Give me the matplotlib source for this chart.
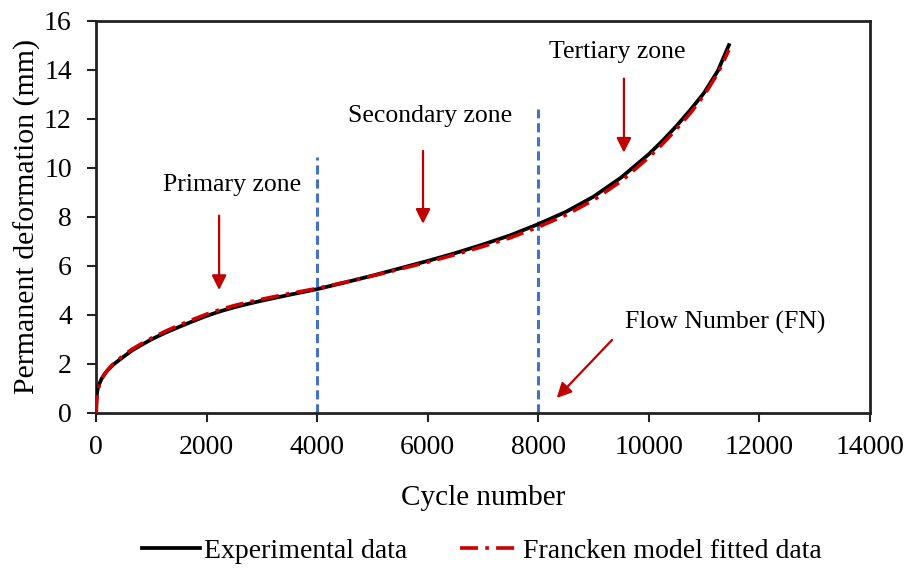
import numpy as np
import matplotlib.pyplot as plt

# values
cycles = [0, 5, 15, 30, 60, 100, 150, 200, 300, 400, 500, 650, 800, 1000, 1250,
          1500, 1750, 2000, 2250, 2500, 2750, 3000, 3500, 4000, 4500, 5000,
          5500, 6000, 6500, 7000, 7500, 8000, 8500, 9000, 9500, 10000, 10250,
          10500, 10750, 11000, 11250, 11450]
experimental = [0, 0.5, 0.8, 1.0, 1.2, 1.4, 1.58, 1.72, 1.95, 2.13, 2.3, 2.55,
                2.75, 3.0, 3.27, 3.51, 3.74, 3.96, 4.15, 4.31, 4.45, 4.58, 4.82,
                5.05, 5.32, 5.6, 5.9, 6.2, 6.52, 6.87, 7.25, 7.7, 8.2, 8.82,
                9.6, 10.55, 11.1, 11.7, 12.35, 13.05, 13.95, 15.0]
francken = [0, 0.3, 0.65, 0.9, 1.15, 1.38, 1.57, 1.73, 1.98, 2.17, 2.36, 2.6,
            2.8, 3.05, 3.33, 3.58, 3.81, 4.03, 4.22, 4.38, 4.52, 4.64, 4.87,
            5.08, 5.33, 5.59, 5.87, 6.15, 6.46, 6.79, 7.15, 7.58, 8.07, 8.68,
            9.45, 10.42, 10.97, 11.57, 12.22, 12.95, 13.85, 14.8]
zone_bounds = [4000, 8000]
zone_line_tops = [10.45, 12.4]

plt.rcParams['font.family'] = ['Liberation Serif', 'DejaVu Serif']
plt.rcParams['font.size'] = 19

fig = plt.figure(figsize=(9.07, 5.72), dpi=100)
ax = fig.add_axes([0.106, 0.278, 0.853, 0.686])

ax.plot(cycles, experimental, color='black', lw=2.7, label='Experimental data', zorder=3)
ax.plot(cycles, francken, color='#cc0000', lw=2.6, ls=(0, (5, 2, 1, 2)),
        label='Francken model fitted data', zorder=4)

for xb, top in zip(zone_bounds, zone_line_tops):
    ax.plot([xb, xb], [0, top], color='#4472c4', lw=2.2, ls=(0, (3, 1.6)), zorder=2)

arrow = dict(arrowstyle='-|>', color='#c00000', lw=1.6, mutation_scale=22)
ax.annotate('', xy=(2225, 4.9), xytext=(2225, 8.16), arrowprops=arrow)
ax.annotate('', xy=(5915, 7.6), xytext=(5915, 10.8), arrowprops=arrow)
ax.annotate('', xy=(9550, 10.5), xytext=(9550, 13.75), arrowprops=arrow)
ax.annotate('', xy=(8300, 0.53), xytext=(9370, 3.06), arrowprops=arrow)

ax.text(2460, 9.3, 'Primary zone', ha='center', va='center', fontsize=18.5)
ax.text(6040, 12.1, 'Secondary zone', ha='center', va='center', fontsize=18.5)
ax.text(9425, 14.7, 'Tertiary zone', ha='center', va='center', fontsize=18.5)
ax.text(9570, 3.7, 'Flow Number (FN)', ha='left', va='center', fontsize=18.5)

ax.set_xlim(0, 14000)
ax.set_ylim(0, 16)
ax.set_xticks(np.arange(0, 14001, 2000))
ax.set_yticks(np.arange(0, 17, 2))
ax.tick_params(direction='out', length=6.5, width=1.5, color='#222222', labelsize=20)
ax.tick_params(axis='x', pad=9)
ax.tick_params(axis='y', pad=11)
for s in ax.spines.values():
    s.set_linewidth(2)
    s.set_color('#222222')

ax.set_xlabel('Cycle number', fontsize=21, labelpad=18)
ax.set_ylabel('Permanent deformation (mm)', fontsize=21.5, labelpad=2)

fig.legend(loc='lower center', bbox_to_anchor=(0.531, -0.03), ncol=2, frameon=False,
           fontsize=20, handlelength=2.1, handletextpad=0.15, columnspacing=1.9)

fig.savefig('out.png', dpi=100)
